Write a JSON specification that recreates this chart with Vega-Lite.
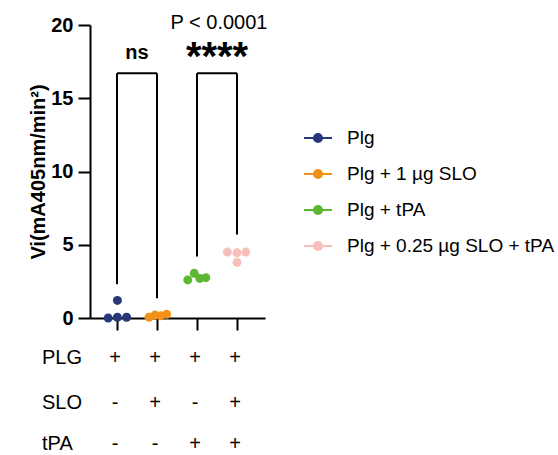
{
  "$schema": "https://vega.github.io/schema/vega-lite/v6.json",
  "width": 175,
  "height": 293,
  "autosize": "none",
  "padding": {"left": 90, "top": 25, "right": 293, "bottom": 137},
  "config": {"font": "Liberation Sans", "view": {"stroke": null}},
  "datasets": {
    "points": [
      {"group": "Plg", "x": 0.78, "value": 0.0},
      {"group": "Plg", "x": 1.01, "value": 0.05},
      {"group": "Plg", "x": 1.24, "value": 0.05},
      {"group": "Plg", "x": 1.01, "value": 1.2},
      {"group": "Plg + 1 µg SLO", "x": 1.8, "value": 0.05},
      {"group": "Plg + 1 µg SLO", "x": 1.95, "value": 0.2},
      {"group": "Plg + 1 µg SLO", "x": 2.09, "value": 0.15},
      {"group": "Plg + 1 µg SLO", "x": 2.24, "value": 0.25},
      {"group": "Plg + tPA", "x": 2.77, "value": 2.6},
      {"group": "Plg + tPA", "x": 2.93, "value": 3.05},
      {"group": "Plg + tPA", "x": 3.07, "value": 2.7},
      {"group": "Plg + tPA", "x": 3.22, "value": 2.75},
      {"group": "Plg + 0.25 µg SLO + tPA", "x": 3.76, "value": 4.5},
      {"group": "Plg + 0.25 µg SLO + tPA", "x": 4.0, "value": 4.45},
      {"group": "Plg + 0.25 µg SLO + tPA", "x": 4.22, "value": 4.5},
      {"group": "Plg + 0.25 µg SLO + tPA", "x": 4.0, "value": 3.8}
    ],
    "rules": [
      {"x": 1, "x2": 1, "y": 2.3, "y2": 16.7},
      {"x": 1, "x2": 2, "y": 16.7, "y2": 16.7},
      {"x": 2, "x2": 2, "y": 1.35, "y2": 16.7},
      {"x": 3, "x2": 3, "y": 4.2, "y2": 16.7},
      {"x": 3, "x2": 4, "y": 16.7, "y2": 16.7},
      {"x": 4, "x2": 4, "y": 5.7, "y2": 16.7}
    ],
    "table": [
      {"x": 0.95, "y": -2.7, "label": "+"},
      {"x": 1.95, "y": -2.7, "label": "+"},
      {"x": 2.95, "y": -2.7, "label": "+"},
      {"x": 3.95, "y": -2.7, "label": "+"},
      {"x": 0.95, "y": -5.77, "label": "-"},
      {"x": 1.95, "y": -5.77, "label": "+"},
      {"x": 2.95, "y": -5.77, "label": "-"},
      {"x": 3.95, "y": -5.77, "label": "+"},
      {"x": 0.95, "y": -8.6, "label": "-"},
      {"x": 1.95, "y": -8.6, "label": "-"},
      {"x": 2.95, "y": -8.6, "label": "+"},
      {"x": 3.95, "y": -8.6, "label": "+"}
    ],
    "rowlabels": [
      {"x": -0.875, "y": -2.7, "label": "PLG"},
      {"x": -0.875, "y": -5.77, "label": "SLO"},
      {"x": -0.875, "y": -8.6, "label": "tPA"}
    ],
    "ns": [{"x": 1.5, "y": 18.1, "label": "ns"}],
    "stars": [{"x": 3.5, "y": 17.75, "label": "****"}],
    "pval": [{"x": 3.55, "y": 20.15, "label": "P < 0.0001"}]
  },
  "encoding": {
    "x": {
      "field": "x",
      "type": "quantitative",
      "scale": {"domain": [0.325, 4.7], "nice": false, "zero": false},
      "axis": {
        "values": [1, 2, 3, 4],
        "labels": false,
        "title": null,
        "grid": false,
        "tickSize": 12,
        "tickWidth": 2,
        "tickColor": "black",
        "domainWidth": 2,
        "domainColor": "black"
      }
    }
  },
  "layer": [
    {
      "data": {"name": "rules"},
      "mark": {"type": "rule", "strokeWidth": 2, "color": "black"},
      "encoding": {
        "x2": {"field": "x2"},
        "y": {"field": "y", "type": "quantitative", "scale": {"domain": [0, 20], "nice": false},
          "axis": {
            "values": [0, 5, 10, 15, 20],
            "grid": false,
            "tickSize": 12,
            "tickWidth": 2,
            "tickColor": "black",
            "domainWidth": 2,
            "domainColor": "black",
            "labelFontSize": 20,
            "labelFontWeight": "bold",
            "labelColor": "black",
            "labelPadding": 5,
            "title": "Vi(mA405nm/min²)",
            "titleFontSize": 20,
            "titleFontWeight": "bold",
            "titleColor": "black",
            "titlePadding": 2
          }
        },
        "y2": {"field": "y2"}
      }
    },
    {
      "data": {"name": "points"},
      "mark": {"type": "point", "filled": true, "size": 80, "opacity": 1},
      "encoding": {
        "y": {"field": "value", "type": "quantitative"},
        "color": {
          "field": "group",
          "type": "nominal",
          "scale": {
            "domain": ["Plg", "Plg + 1 µg SLO", "Plg + tPA", "Plg + 0.25 µg SLO + tPA"],
            "range": ["#27377a", "#f39019", "#5cb731", "#f7bfba"]
          },
          "legend": {
            "title": null,
            "orient": "none",
            "legendX": 213,
            "legendY": 98,
            "labelFontSize": 19,
            "labelColor": "black",
            "labelOffset": 14,
            "labelLimit": 400,
            "symbolType": "M-1,0L1,0M-0.29,0A0.29,0.29 0 1,1 0.29,0A0.29,0.29 0 1,1 -0.29,0Z",
            "symbolSize": 784,
            "symbolStrokeWidth": 2,
            "symbolOpacity": 1,
            "rowPadding": 11,
            "encode": {
              "symbols": {
                "update": {
                  "stroke": {"scale": "color", "field": "value"},
                  "fill": {"scale": "color", "field": "value"}
                }
              }
            }
          }
        }
      }
    },
    {
      "data": {"name": "table"},
      "mark": {"type": "text", "fontSize": 20, "color": "black", "baseline": "middle"},
      "encoding": {"y": {"field": "y", "type": "quantitative"}, "text": {"field": "label"}}
    },
    {
      "data": {"name": "rowlabels"},
      "mark": {"type": "text", "fontSize": 20, "color": "black", "align": "left", "baseline": "middle"},
      "encoding": {"y": {"field": "y", "type": "quantitative"}, "text": {"field": "label"}}
    },
    {
      "data": {"name": "ns"},
      "mark": {"type": "text", "fontSize": 20, "fontWeight": "bold", "color": "black", "baseline": "middle"},
      "encoding": {"y": {"field": "y", "type": "quantitative"}, "text": {"field": "label"}}
    },
    {
      "data": {"name": "stars"},
      "mark": {"type": "text", "fontSize": 40, "fontWeight": "bold", "color": "black", "baseline": "middle"},
      "encoding": {"y": {"field": "y", "type": "quantitative"}, "text": {"field": "label"}}
    },
    {
      "data": {"name": "pval"},
      "mark": {"type": "text", "fontSize": 20, "color": "black", "baseline": "middle"},
      "encoding": {"y": {"field": "y", "type": "quantitative"}, "text": {"field": "label"}}
    }
  ]
}
